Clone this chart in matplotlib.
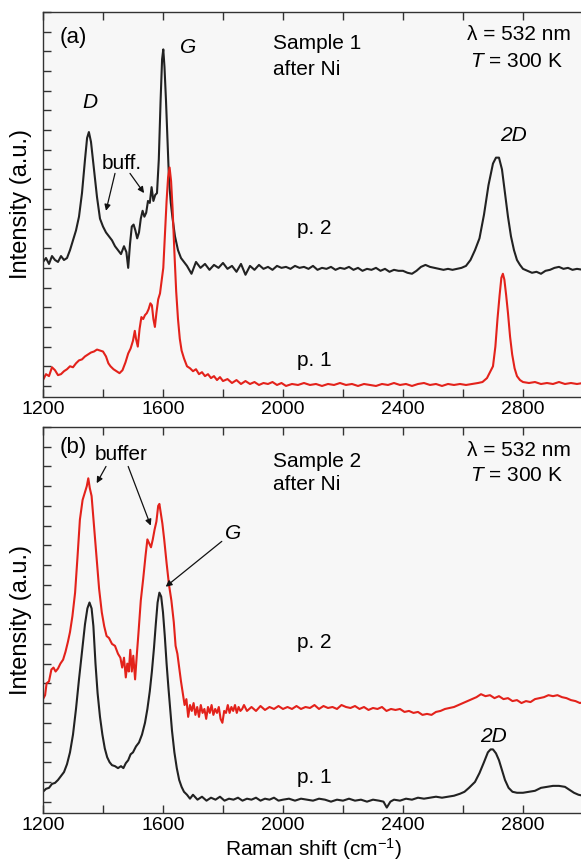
import matplotlib
matplotlib.use("Agg")
import matplotlib.pyplot as plt
from matplotlib.ticker import MultipleLocator, NullFormatter

plt.rcParams["font.family"] = ["Liberation Sans", "DejaVu Sans"]
plt.rcParams["mathtext.fontset"] = "custom"
plt.rcParams["mathtext.rm"] = "Liberation Sans"
plt.rcParams["mathtext.it"] = "Liberation Sans:italic"

# ---------------- data (Raman shift in cm-1, intensity in arb. units) ----------------
# panel (a), Sample 1, p. 2 (black)
a_p2_x = [1200, 1210, 1220, 1230, 1240, 1250, 1260, 1270, 1280, 1290, 1300, 1310, 1320, 1330,
          1340, 1347, 1353, 1360, 1370, 1380, 1390, 1400, 1410, 1420, 1430, 1440, 1450, 1460,
          1470, 1478, 1484, 1490, 1496, 1502, 1508, 1514, 1520, 1526, 1532, 1538, 1544, 1550,
          1556, 1562, 1568, 1574, 1580, 1586, 1592, 1597, 1601, 1605, 1610, 1615, 1620, 1626,
          1632, 1640, 1650, 1660, 1670, 1680, 1695, 1710, 1725, 1740, 1755, 1770, 1785, 1800,
          1815, 1830, 1845, 1860, 1875, 1890, 1905, 1920, 1935, 1950, 1965, 1980, 1995, 2010,
          2025, 2040, 2055, 2070, 2085, 2100, 2115, 2130, 2145, 2160, 2175, 2190, 2205, 2220,
          2235, 2250, 2265, 2280, 2295, 2310, 2325, 2340, 2355, 2370, 2385, 2400, 2415, 2430,
          2445, 2460, 2475, 2490, 2505, 2520, 2535, 2550, 2565, 2580, 2595, 2610, 2625, 2640,
          2655, 2670, 2685, 2700, 2710, 2720, 2730, 2740, 2750, 2760, 2770, 2780, 2790, 2800,
          2815, 2830, 2845, 2860, 2875, 2890, 2905, 2920, 2935, 2950, 2965, 2980, 3000]
a_p2_y = [6.3, 6.5, 6.2, 6.6, 6.4, 6.3, 6.6, 6.4, 6.5, 6.9, 7.4, 7.9, 8.6, 9.8,
          11.5, 12.6, 12.9, 12.4, 11.0, 9.6, 8.5, 8.1, 7.8, 7.6, 7.4, 7.1, 6.9, 6.7,
          7.1, 6.8, 6.0, 7.2, 8.1, 8.2, 7.9, 7.5, 7.8, 8.5, 8.9, 8.6, 8.8, 9.4,
          9.3, 10.1, 9.4, 9.7, 9.8, 11.5, 14.5, 16.6, 17.1, 16.2, 14.5, 12.5, 10.5, 9.3,
          8.5, 7.6, 6.9, 6.5, 6.3, 6.1, 5.7, 6.3, 6.0, 6.2, 5.9, 6.15, 6.0, 6.25,
          5.95, 6.1, 5.8, 6.2, 5.65, 6.1, 5.9, 6.15, 5.95, 6.05, 5.9, 6.1, 6.0, 6.05,
          5.95, 6.1, 6.0, 6.05, 5.95, 6.1, 5.9, 6.0, 5.95, 6.05, 5.9, 6.0, 5.95, 6.05,
          5.9, 6.0, 5.85, 5.95, 5.9, 6.0, 5.85, 5.95, 5.8, 5.9, 5.85, 5.85, 5.75, 5.7,
          5.85, 6.05, 6.15, 6.05, 6.0, 5.95, 5.9, 5.95, 5.9, 5.95, 6.0, 6.1, 6.4, 6.9,
          7.5, 8.7, 10.2, 11.3, 11.6, 11.6, 11.0, 9.8, 8.6, 7.6, 6.9, 6.4, 6.15, 5.95,
          5.85, 5.75, 5.8, 5.7, 5.85, 5.9, 6.0, 6.05, 5.95, 6.0, 5.9, 5.95, 5.9]

# panel (a), Sample 1, p. 1 (red)
a_p1_x = [1200, 1210, 1220, 1230, 1240, 1250, 1260, 1270, 1280, 1290, 1300, 1310, 1320, 1330,
          1340, 1350, 1360, 1370, 1380, 1390, 1400, 1410, 1418, 1425, 1435, 1445, 1455, 1465,
          1475, 1484, 1492, 1500, 1506, 1510, 1516, 1522, 1528, 1534, 1540, 1546, 1552, 1558,
          1563, 1568, 1573, 1578, 1584, 1590, 1596, 1601, 1606, 1612, 1617, 1622, 1627, 1632,
          1638, 1644, 1650, 1656, 1662, 1670, 1680, 1690, 1700, 1710, 1720, 1730, 1740, 1750,
          1760, 1770, 1780, 1790, 1800, 1815, 1830, 1845, 1860, 1875, 1890, 1905, 1920, 1935,
          1950, 1965, 1980, 1995, 2010, 2030, 2050, 2070, 2090, 2110, 2130, 2150, 2170, 2190,
          2210, 2230, 2250, 2270, 2290, 2310, 2330, 2350, 2370, 2390, 2410, 2430, 2450, 2470,
          2490, 2510, 2530, 2550, 2570, 2590, 2610, 2630, 2650, 2665, 2680, 2690, 2700, 2708,
          2715, 2722, 2728, 2733, 2738, 2744, 2750, 2757, 2764, 2772, 2780, 2790, 2800, 2820,
          2840, 2860, 2880, 2900, 2920, 2940, 2960, 2980, 3000]
a_p1_y = [0.3, 0.6, 0.5, 0.95, 0.8, 0.55, 0.6, 0.75, 0.85, 1.0, 0.95, 1.15, 1.3, 1.35,
          1.5, 1.6, 1.7, 1.75, 1.85, 1.8, 1.75, 1.5, 1.15, 1.0, 0.85, 0.75, 0.65, 0.8,
          1.2, 1.65, 1.9, 2.3, 2.8, 2.4, 2.0, 2.9, 3.5, 3.4, 3.6, 3.7, 3.9, 4.2,
          4.1, 3.4, 3.0, 3.7, 4.4, 4.7, 5.4, 6.0, 7.5, 9.4, 10.6, 11.1, 10.4, 9.0,
          6.8, 4.8, 3.4, 2.4, 1.8, 1.4, 1.0, 0.9, 0.75, 0.85, 0.6, 0.7, 0.5, 0.6,
          0.4, 0.5, 0.3, 0.45, 0.25, 0.35, 0.15, 0.3, 0.1, 0.25, 0.1, 0.2, 0.05, 0.15,
          0.1, 0.2, 0.05, 0.15, 0.0, 0.1, 0.05, 0.15, 0.05, 0.1, 0.0, 0.1, 0.05, 0.15,
          0.05, 0.1, 0.0, 0.1, 0.05, 0.0, 0.1, 0.05, 0.15, 0.05, 0.1, 0.0, 0.1, 0.15,
          0.05, 0.1, 0.0, 0.1, 0.05, 0.1, 0.05, 0.1, 0.15, 0.2, 0.4, 0.7, 1.0, 2.0,
          3.4, 4.6, 5.5, 5.7, 5.4, 4.6, 3.7, 2.5, 1.6, 0.9, 0.5, 0.3, 0.2, 0.15,
          0.2, 0.1, 0.15, 0.1, 0.2, 0.1, 0.15, 0.1, 0.15]

# panel (b), Sample 2, p. 2 (red)
b_p2_x = [1200, 1207, 1212, 1220, 1228, 1235, 1242, 1250, 1258, 1267, 1275, 1283, 1290, 1298,
          1307, 1315, 1323, 1332, 1340, 1346, 1351, 1356, 1362, 1370, 1379, 1387, 1396, 1404,
          1412, 1420, 1430, 1440, 1450, 1458, 1464, 1470, 1476, 1481, 1486, 1491, 1496, 1501,
          1507, 1513, 1518, 1526, 1534, 1542, 1548, 1554, 1560, 1566, 1572, 1578, 1584, 1588,
          1593, 1598, 1604, 1612, 1620, 1628, 1636, 1642, 1648, 1654, 1660, 1666, 1672, 1678,
          1684, 1690, 1696, 1702, 1708, 1714, 1720, 1726, 1732, 1738, 1744, 1750, 1756, 1762,
          1768, 1774, 1780, 1786, 1792, 1798, 1804, 1810, 1816, 1822, 1828, 1834, 1840, 1846,
          1852, 1858, 1864, 1870, 1880, 1895, 1910, 1925, 1940, 1955, 1970, 1985, 2000, 2015,
          2030, 2045, 2060, 2075, 2090, 2105, 2120, 2135, 2150, 2165, 2180, 2195, 2210, 2225,
          2240, 2255, 2270, 2285, 2300, 2315, 2330, 2345, 2360, 2375, 2390, 2405, 2420, 2435,
          2450, 2465, 2480, 2495, 2510, 2525, 2540, 2555, 2570, 2585, 2600, 2615, 2630, 2645,
          2660, 2675, 2690, 2705, 2720, 2735, 2750, 2765, 2780, 2795, 2810, 2825, 2840, 2855,
          2870, 2885, 2900, 2915, 2930, 2945, 2960, 2975, 2990, 3000]
b_p2_y = [5.2, 5.4, 6.0, 6.1, 6.7, 6.8, 6.6, 6.75, 7.0, 7.2, 7.6, 8.1, 8.6, 9.4,
          10.6, 12.4, 14.3, 15.3, 15.7, 16.0, 16.4, 15.9, 15.5, 14.0, 12.3, 10.8, 9.6, 8.9,
          8.4, 8.3, 8.0, 7.9, 7.5, 7.3, 6.8, 7.3, 6.3, 7.0, 6.6, 7.7, 6.6, 7.4,
          6.2, 7.5, 8.5, 10.2, 11.3, 12.5, 13.3, 13.1, 12.9, 13.3, 13.8, 14.2, 15.0, 15.1,
          14.6, 14.1, 13.3, 12.1, 11.0, 10.2, 9.1, 7.9, 7.5, 6.8, 6.1, 5.5, 4.9, 5.2,
          4.3, 4.9, 4.6, 5.0, 4.4, 4.8, 4.3, 4.9, 4.5, 4.7, 4.2, 4.8, 4.5, 4.9,
          4.4, 4.7, 4.5, 4.8, 4.2, 4.0, 4.6, 4.5, 4.9, 4.5, 4.8, 4.6, 4.9, 4.5,
          4.8, 4.6, 4.7, 4.9, 4.6, 4.8, 4.6, 4.85, 4.65, 4.8, 4.7, 4.85, 4.7, 4.8,
          4.7, 4.85, 4.7, 4.8, 4.75, 4.9, 4.7, 4.85, 4.75, 4.8, 4.7, 4.9, 4.8, 4.75,
          4.85, 4.7, 4.8, 4.65, 4.75, 4.7, 4.8, 4.6, 4.7, 4.65, 4.7, 4.55, 4.6, 4.5,
          4.55, 4.4, 4.45, 4.4, 4.55, 4.6, 4.7, 4.75, 4.8, 4.9, 5.0, 5.1, 5.2, 5.3,
          5.45, 5.35, 5.4, 5.25, 5.35, 5.2, 5.25, 5.1, 5.15, 5.0, 5.1, 5.05, 5.2, 5.25,
          5.3, 5.4, 5.35, 5.4, 5.3, 5.25, 5.15, 5.1, 5.0, 5.05]

# panel (b), Sample 2, p. 1 (black)
b_p1_x = [1200, 1210, 1220, 1230, 1240, 1250, 1260, 1270, 1280, 1290, 1300, 1310, 1320, 1330,
          1340, 1348, 1355, 1362, 1368, 1375, 1382, 1390, 1398, 1406, 1414, 1422, 1430, 1440,
          1450, 1460, 1468, 1476, 1484, 1492, 1500, 1510, 1520, 1530, 1540, 1548, 1556, 1563,
          1570, 1576, 1582, 1588, 1594, 1600, 1606, 1612, 1618, 1624, 1630, 1638, 1646, 1654,
          1662, 1670, 1680, 1690, 1700, 1715, 1730, 1745, 1760, 1775, 1790, 1805, 1820, 1835,
          1850, 1865, 1880, 1895, 1910, 1925, 1940, 1955, 1970, 1985, 2000, 2020, 2040, 2060,
          2080, 2100, 2120, 2140, 2160, 2180, 2200, 2220, 2240, 2260, 2280, 2300, 2320, 2335,
          2346, 2358, 2370, 2390, 2410, 2430, 2450, 2470, 2490, 2510, 2530, 2550, 2570, 2590,
          2605, 2620, 2640, 2655, 2670, 2683, 2692, 2700, 2710, 2720, 2730, 2740, 2752, 2765,
          2780, 2800, 2820, 2840, 2860, 2880, 2900, 2920, 2940, 2955, 2970, 2985, 3000]
b_p1_y = [0.5, 0.65, 0.7, 0.9, 0.95, 1.1, 1.3, 1.5, 1.9, 2.5, 3.4, 4.7, 6.2, 7.6,
          9.0, 9.8, 10.1, 9.8, 8.9, 7.0, 5.5, 4.3, 3.4, 2.7, 2.25, 2.0, 1.85, 1.8,
          1.7, 1.8, 1.7, 1.95, 2.1, 2.4, 2.5, 2.8, 3.0, 3.4, 4.0, 4.7, 5.6, 6.6,
          7.8, 9.0, 10.1, 10.6, 10.4, 9.6, 8.4, 7.0, 5.8, 4.7, 3.6, 2.5, 1.7, 1.1,
          0.75, 0.5, 0.35, 0.15, 0.35, 0.1, 0.25, 0.05, 0.2, 0.1, 0.25, 0.05, 0.15, 0.1,
          0.2, 0.05, 0.15, 0.1, 0.2, 0.05, 0.15, 0.1, 0.2, 0.05, 0.1, 0.15, 0.05, 0.15,
          0.1, 0.05, 0.15, 0.1, 0.0, 0.1, 0.05, 0.15, 0.05, 0.1, 0.0, 0.1, 0.05, 0.0,
          -0.3, 0.0, 0.1, 0.05, 0.15, 0.1, 0.2, 0.15, 0.2, 0.25, 0.2, 0.25, 0.3, 0.4,
          0.5, 0.7, 1.0, 1.45, 2.0, 2.5, 2.65, 2.65, 2.45, 2.1, 1.6, 1.1, 0.7, 0.5,
          0.45, 0.45, 0.5, 0.55, 0.7, 0.75, 0.8, 0.8, 0.75, 0.6, 0.45, 0.35, 0.3]

BLACK = "#222222"
RED = "#e3221b"
TXT = 15

fig = plt.figure(figsize=(5.81, 8.63), dpi=100)
ax_a = fig.add_axes([0.074, 0.540, 0.9294, 0.4461])
ax_b = fig.add_axes([0.074, 0.0583, 0.9294, 0.4469])

for ax in (ax_a, ax_b):
    ax.set_facecolor("#f7f7f7")
    ax.set_xlim(1200, 3000)
    ax.set_ylim(-0.56, 19.0)
    ax.xaxis.set_major_locator(MultipleLocator(400))
    ax.xaxis.set_minor_locator(MultipleLocator(200))
    ax.yaxis.set_major_locator(MultipleLocator(1))
    ax.yaxis.set_major_formatter(NullFormatter())
    ax.tick_params(axis="x", which="both", direction="in", top=True, length=6,
                   width=1, color="#333333", labelsize=14, pad=3)
    ax.tick_params(axis="y", direction="in", length=6, width=1, color="#333333")
    for s in ax.spines.values():
        s.set_color("#333333")
        s.set_linewidth(1.0)
    ax.set_ylabel("Intensity (a.u.)", fontsize=17)
    ax.yaxis.set_label_coords(-0.021, 0.5)

# panel (a)
ax_a.plot(a_p2_x, a_p2_y, color=BLACK, lw=1.5)
ax_a.plot(a_p1_x, a_p1_y, color=RED, lw=1.5)
ax_a.text(1257, 17.7, "(a)", fontsize=16, ha="left", va="center")
ax_a.text(1683, 17.2, "G", fontsize=TXT, style="italic", ha="center", va="center")
ax_a.text(1357, 14.4, "D", fontsize=TXT, style="italic", ha="center", va="center")
ax_a.text(1463, 11.3, "buff.", fontsize=TXT, ha="center", va="center")
arw = dict(arrowstyle="-|>", color="#111111", lw=0.9, mutation_scale=9, shrinkA=0, shrinkB=0)
ax_a.annotate("", xy=(1410, 8.9), xytext=(1440, 10.8), arrowprops=arw)
ax_a.annotate("", xy=(1537, 9.8), xytext=(1490, 10.8), arrowprops=arw)
ax_a.text(1967, 17.4, "Sample 1", fontsize=TXT, ha="left", va="center")
ax_a.text(1967, 16.1, "after Ni", fontsize=TXT, ha="left", va="center")
ax_a.text(2613, 17.87, "λ = 532 nm", fontsize=TXT, ha="left", va="center")
ax_a.text(2623, 16.5, "$T$ = 300 K", fontsize=TXT, ha="left", va="center")
ax_a.text(2767, 12.74, "2D", fontsize=TXT, style="italic", ha="center", va="center")
ax_a.text(2047, 8.0, "p. 2", fontsize=TXT, ha="left", va="center")
ax_a.text(2047, 1.27, "p. 1", fontsize=TXT, ha="left", va="center")

# panel (b)
ax_b.plot(b_p2_x, b_p2_y, color=RED, lw=1.5)
ax_b.plot(b_p1_x, b_p1_y, color=BLACK, lw=1.5)
ax_b.text(1257, 17.98, "(b)", fontsize=16, ha="left", va="center")
ax_b.text(1460, 17.6, "buffer", fontsize=TXT, ha="center", va="center")
ax_b.annotate("", xy=(1379, 16.15), xytext=(1410, 17.0), arrowprops=arw)
ax_b.annotate("", xy=(1559, 14.0), xytext=(1484, 17.0), arrowprops=arw)
ax_b.text(1834, 13.6, "G", fontsize=TXT, style="italic", ha="center", va="center")
ax_b.annotate("", xy=(1609, 10.9), xytext=(1796, 13.2), arrowprops=arw)
ax_b.text(1967, 17.24, "Sample 2", fontsize=TXT, ha="left", va="center")
ax_b.text(1967, 16.06, "after Ni", fontsize=TXT, ha="left", va="center")
ax_b.text(2613, 17.83, "λ = 532 nm", fontsize=TXT, ha="left", va="center")
ax_b.text(2623, 16.56, "$T$ = 300 K", fontsize=TXT, ha="left", va="center")
ax_b.text(2701, 3.31, "2D", fontsize=TXT, style="italic", ha="center", va="center")
ax_b.text(2047, 8.05, "p. 2", fontsize=TXT, ha="left", va="center")
ax_b.text(2047, 1.2, "p. 1", fontsize=TXT, ha="left", va="center")

fig.text(0.539, 0.0165, r"Raman shift (cm$^{\mathregular{-1}}$)", fontsize=15,
         ha="center", va="center")

fig.savefig("out.png", dpi=100)
